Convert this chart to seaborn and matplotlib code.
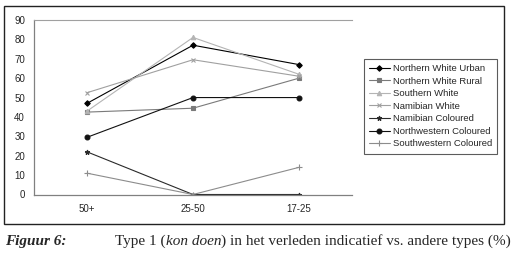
import seaborn as sns
import matplotlib.pyplot as plt
import pandas as pd
from matplotlib.patches import Rectangle

groups = ['50+', '25-50', '17-25']
series = ['Northern White Urban', 'Northern White Rural', 'Southern White', 'Namibian White',
          'Namibian Coloured', 'Northwestern Coloured', 'Southwestern Coloured']
northern_white_urban = [47, 77, 67]
northern_white_rural = [42.5, 44.5, 60]
southern_white = [43, 81, 62]
namibian_white = [52.5, 69.5, 61]
namibian_coloured = [22, 0, 0]
northwestern_coloured = [29.5, 50, 50]
southwestern_coloured = [11, 0, 14]
values = [northern_white_urban, northern_white_rural, southern_white, namibian_white,
          namibian_coloured, northwestern_coloured, southwestern_coloured]

colors = ['#000000', '#7a7a7a', '#b4b4b4', '#a0a0a0', '#2a2a2a', '#111111', '#8c8c8c']
markers = ['D', 's', '^', 'x', '*', 'o', '+']
sizes = [2.8, 3.2, 3.2, 3.5, 3.5, 3.5, 4]

sns.set_style('white')
plt.rcParams['font.family'] = ['Liberation Sans', 'DejaVu Sans']

df = pd.DataFrame([(s, g, v) for s, vals in zip(series, values) for g, v in zip(groups, vals)],
                  columns=['series', 'group', 'value'])

fig = plt.figure(figsize=(5.18, 2.54), dpi=100)
ax = fig.add_axes([34/518, 1-194.5/254, (352-34)/518, (194.5-20)/254])

for s, c, m, ms in zip(series, colors, markers, sizes):
    sub = df[df['series'] == s]
    sns.lineplot(data=sub, x='group', y='value', ax=ax, color=c, marker=m, markersize=ms,
                 markeredgecolor=c, markeredgewidth=0.8, linewidth=0.8, label=s, legend=False)

ax.set_xlim(-0.5, 2.5)
ax.set_ylim(0, 90)
ax.set_yticks(range(0, 91, 10))
ax.set_xlabel('')
ax.set_ylabel('')
ax.tick_params(axis='both', labelsize=7, length=3, width=0.8, color='#555555', direction='out')
ax.set_xticks([0.5, 1.5], minor=True)
ax.tick_params(axis='x', which='major', length=0, pad=7)
ax.tick_params(axis='x', which='minor', length=3, color='#555555')
ax.spines['right'].set_visible(False)
ax.spines['top'].set_color('#a0a0a0')
ax.spines['top'].set_linewidth(0.8)
for sp in ['left', 'bottom']:
    ax.spines[sp].set_color('#808080')
    ax.spines[sp].set_linewidth(0.9)

handles, labels = ax.get_legend_handles_labels()
leg = fig.legend(handles, labels, loc='upper left', bbox_to_anchor=(359/518, 1-54/254),
                 fontsize=6.8, frameon=True, fancybox=False, handlelength=2.2,
                 labelspacing=0.38, borderpad=0.55, handletextpad=0.3)
leg.get_frame().set_edgecolor('#333333')
leg.get_frame().set_linewidth(0.8)

fig.patches.append(Rectangle((4/518, 1-224/254), 500/518, 218/254, transform=fig.transFigure,
                             fill=False, edgecolor='#222222', linewidth=1.0))

# caption, built from pieces so 'kon doen' can be italic
cap_y = 1 - 245/254
fig.text(5/518, cap_y, 'Figuur 6:', fontsize=11, family='Liberation Serif',
         fontweight='bold', style='italic')
pieces = [('Type 1 (', 'normal'), ('kon doen', 'italic'),
          (') in het verleden indicatief vs. andere types (%)', 'normal')]
renderer = fig.canvas.get_renderer()
x = 115
for txt, st in pieces:
    t = fig.text(x/518, cap_y, txt, fontsize=11, family='Liberation Serif', style=st)
    x += t.get_window_extent(renderer).width

fig.savefig('out.png', dpi=100)
